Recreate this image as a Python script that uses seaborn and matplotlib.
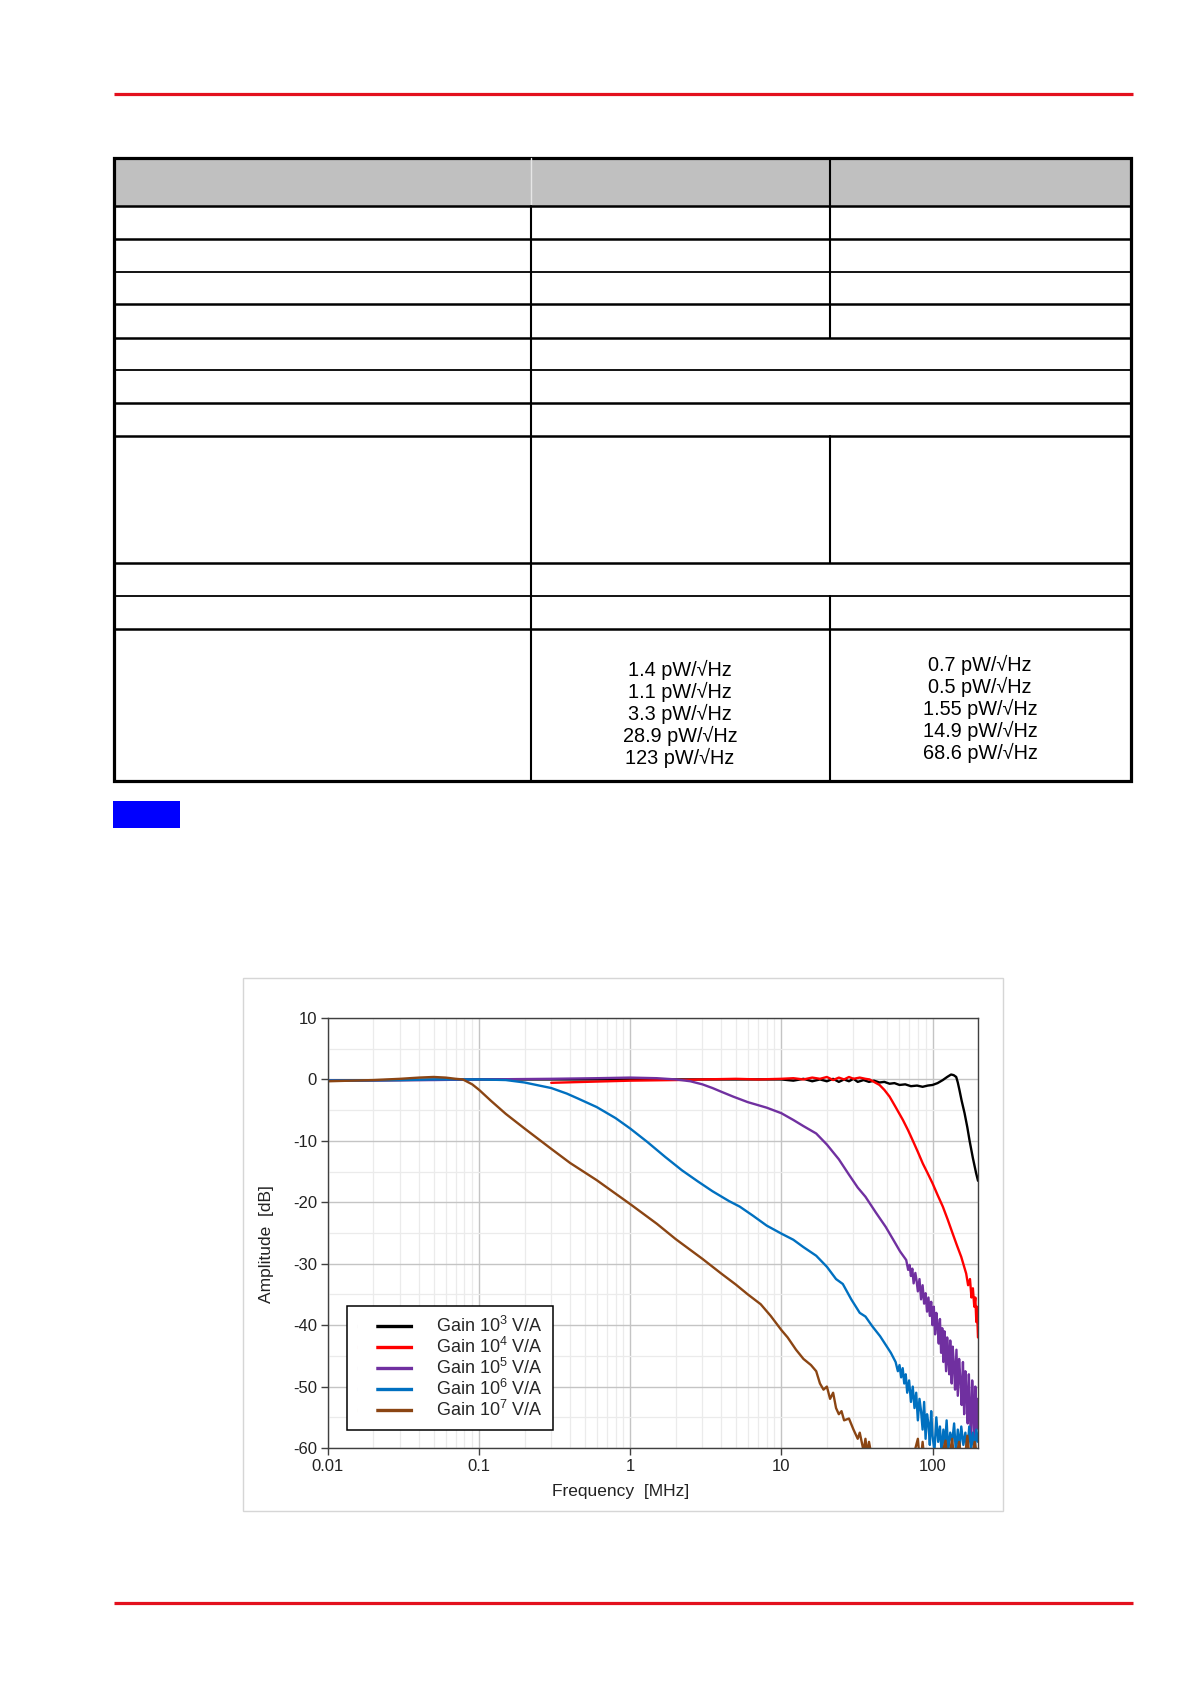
import numpy as np
import pandas as pd
import matplotlib
matplotlib.use('Agg')
import matplotlib.pyplot as plt
import seaborn as sns
from matplotlib.patches import Rectangle
from matplotlib.lines import Line2D
from matplotlib.ticker import LogLocator, MultipleLocator, NullFormatter

# Frequency response data (MHz, dB)
f_g3 = [0.01, 0.03, 0.1, 0.3, 1, 3, 10, 12, 14, 16, 18, 20, 22, 24, 26, 28, 30, 32, 35, 38, 41,
        44.6, 48, 52, 56, 60.5, 66, 72, 79, 86, 93, 100, 108, 117, 125, 132.7, 138, 143.5, 147,
        150.7, 156, 163, 170, 176, 185, 194.5, 200]
a_g3 = [-0.2, -0.1, 0.0, 0.0, 0.0, 0.0, 0.0, -0.2, 0.1, -0.3, 0.0, -0.3, 0.1, -0.4, 0.0, -0.3, 0.1,
        -0.4, -0.1, -0.4, -0.2, -0.5, -0.4, -0.7, -0.6, -0.9, -0.8, -1.1, -1.0, -1.2, -1.0, -0.9,
        -0.6, -0.1, 0.4, 0.8, 0.7, 0.4, -0.5, -1.7, -3.5, -5.5, -7.8, -10.0, -12.8, -15.3, -16.5]

f_g4 = [0.3, 0.5, 1.0, 2.0, 3, 5, 7, 10, 12, 14, 16, 18, 20, 22, 24, 26, 28, 30, 33, 36, 38.3, 41,
        44.6, 48, 52, 57, 63.7, 69, 74.2, 80, 86.3, 93, 100, 108, 117, 126, 136, 145, 155, 162,
        167, 172, 177, 181, 185, 189, 192, 195, 197, 200]
a_g4 = [-0.55, -0.4, -0.2, -0.1, 0.0, 0.1, 0.0, 0.1, 0.2, 0.0, 0.3, 0.1, 0.4, -0.1, 0.3, 0.0, 0.4,
        0.1, 0.3, 0.1, 0.0, -0.4, -0.9, -1.7, -2.8, -4.5, -6.6, -8.3, -10.0, -11.8, -13.7, -15.3,
        -16.9, -18.8, -20.7, -22.8, -25.1, -27.0, -28.9, -30.5, -31.6, -33.5, -32.5, -35.5, -34.0,
        -37.0, -35.5, -39.5, -37.0, -42.0]

f_g5 = [0.01, 0.05, 0.1, 0.3, 0.6, 1.0, 1.5, 2.0, 2.5, 3.0, 3.5, 4.0, 4.8, 6.0, 8.0, 10, 12, 14, 17,
        20, 24, 28, 32, 36, 42, 49, 55, 61, 67, 69, 70.5, 72, 73.5, 75, 77, 78.5, 80, 82, 84, 86,
        88, 90, 92, 94, 96, 98, 100, 102, 104, 106, 108, 110, 112, 114, 116, 118, 120, 123, 125,
        127, 129, 131, 134, 136, 139, 141, 144, 147, 150, 153, 156, 159, 162, 165, 168, 171, 174,
        177, 180, 183, 186, 189, 192, 195, 198, 200]
a_g5 = [-0.2, -0.1, 0.0, 0.1, 0.2, 0.3, 0.2, 0.0, -0.3, -0.8, -1.4, -2.0, -2.8, -3.7, -4.6, -5.5,
        -6.6, -7.6, -8.8, -10.6, -13.0, -15.5, -17.6, -19.1, -21.6, -24.0, -26.1, -28.0, -29.4,
        -31.0, -30.2, -32.0, -30.8, -33.2, -31.5, -32.8, -34.5, -32.5, -35.8, -33.5, -36.5, -34.8,
        -37.8, -35.5, -38.5, -36.2, -40.0, -37.0, -41.5, -38.0, -40.2, -43.0, -39.0, -44.5, -40.5,
        -46.0, -41.0, -47.5, -42.0, -45.0, -48.0, -42.5, -49.5, -43.5, -47.0, -50.5, -44.0, -51.5,
        -45.5, -49.0, -53.0, -46.0, -54.5, -47.5, -51.0, -56.0, -48.0, -55.0, -58.0, -49.0, -53.5,
        -59.0, -50.0, -57.0, -52.0, -55.0]

f_g6 = [0.01, 0.03, 0.05, 0.1, 0.15, 0.2, 0.25, 0.3, 0.38, 0.45, 0.6, 0.8, 1.0, 1.3, 1.7, 2.2, 2.8,
        3.5, 4.5, 5.3, 6.5, 8, 10, 12, 14, 17, 20, 23, 25.5, 29, 33, 36, 40, 45, 49, 53, 57, 59,
        60.5, 62, 63.5, 65, 66.5, 68, 70, 72, 74, 76, 78, 80, 82, 84, 86, 88, 90, 92, 94, 96, 98,
        100, 103, 106, 109, 112, 115, 118, 121, 124, 127, 131, 135, 139, 143, 147, 151, 155, 160,
        165, 170, 175, 180, 185, 190, 195, 200]
a_g6 = [-0.2, -0.1, 0.0, 0.0, -0.1, -0.5, -1.0, -1.4, -2.3, -3.1, -4.5, -6.3, -8.0, -10.2, -12.6,
        -14.8, -16.6, -18.2, -19.8, -20.7, -22.2, -23.8, -25.1, -26.1, -27.3, -28.7, -30.5, -32.5,
        -33.3, -35.8, -38.0, -38.6, -40.2, -41.8, -43.2, -44.5, -46.0, -47.5, -46.5, -48.5, -47.0,
        -49.5, -48.0, -51.0, -49.0, -52.5, -50.0, -53.5, -51.0, -55.5, -52.0, -54.0, -57.0, -52.5,
        -58.5, -54.5, -56.0, -59.5, -54.0, -58.0, -60.5, -55.0, -59.0, -56.5, -61.0, -57.0, -59.5,
        -55.5, -60.5, -57.5, -59.0, -56.0, -61.0, -57.0, -60.0, -56.5, -59.5, -57.5, -61.0, -56.5,
        -60.0, -57.5, -61.0, -57.0, -59.0]

f_g7 = [0.01, 0.02, 0.03, 0.04, 0.05, 0.06, 0.07, 0.078, 0.09, 0.1, 0.12, 0.15, 0.2, 0.3, 0.4, 0.6,
        0.8, 1.0, 1.5, 2.0, 3.0, 4.0, 5.0, 6.0, 7.3, 8.5, 10, 11, 12.5, 14, 15.7, 17, 18, 19, 20, 21,
        22, 23, 24, 25, 26, 28, 30, 32, 33, 35, 36, 37, 38, 40, 45, 55, 70, 80, 83, 86, 90, 110,
        122, 126, 135, 140, 150, 160, 170, 178, 190, 200]
a_g7 = [-0.3, -0.1, 0.1, 0.3, 0.4, 0.3, 0.1, 0.0, -0.8, -1.7, -3.5, -5.6, -8.0, -11.3, -13.6, -16.4,
        -18.6, -20.3, -23.5, -26.0, -29.2, -31.6, -33.4, -35.0, -36.6, -38.5, -40.8, -42.0, -44.0,
        -45.5, -46.5, -47.5, -49.5, -50.5, -50.0, -52.0, -51.0, -53.5, -54.5, -54.0, -55.5, -55.2,
        -57.0, -58.5, -57.5, -60.5, -58.5, -61.0, -59.0, -62.0, -65.0, -66.0, -64.0, -58.5, -63.0,
        -59.0, -64.0, -63.0, -58.8, -63.0, -58.5, -63.0, -59.0, -64.0, -58.0, -63.0, -59.0, -62.0]

gain_labels = ['Gain 10$^{\\mathrm{3}}$ V/A', 'Gain 10$^{\\mathrm{4}}$ V/A', 'Gain 10$^{\\mathrm{5}}$ V/A',
               'Gain 10$^{\\mathrm{6}}$ V/A', 'Gain 10$^{\\mathrm{7}}$ V/A']
gain_colors = ['#000000', '#ff0000', '#7030a0', '#0070c0', '#8b4513']

# Noise equivalent power values in the table's last row
nep_col2 = ['1.4 pW/√Hz', '1.1 pW/√Hz', '3.3 pW/√Hz', '28.9 pW/√Hz', '123 pW/√Hz']
nep_col3 = ['0.7 pW/√Hz', '0.5 pW/√Hz', '1.55 pW/√Hz', '14.9 pW/√Hz', '68.6 pW/√Hz']

sns.set_theme(style='white')
plt.rcParams['font.family'] = ['Liberation Sans', 'DejaVu Sans']
plt.rcParams['axes.unicode_minus'] = False
plt.rcParams['mathtext.fontset'] = 'custom'
plt.rcParams['mathtext.rm'] = 'Liberation Sans'
plt.rcParams['mathtext.it'] = 'Liberation Sans:italic'
plt.rcParams['lines.scale_dashes'] = False

fig = plt.figure(figsize=(11.9, 16.84), dpi=100)

# page layer in pixel coordinates
page = fig.add_axes([0, 0, 1, 1])
page.set_xlim(0, 1190)
page.set_ylim(1684, 0)
page.axis('off')

red = '#e3101d'
page.plot([114, 1133], [94, 94], color=red, lw=2.3, solid_capstyle='butt')
page.plot([114, 1133], [1603, 1603], color=red, lw=2.3, solid_capstyle='butt')

# table skeleton
L, C1, C2, R = 114, 531, 830, 1131
T, B = 158, 781
page.add_patch(Rectangle((L, T), R - L, 206 - T, facecolor='#c0c0c0', edgecolor='none'))
page.plot([C1, C1], [T, 206], color='#e6e6e6', lw=1.0)
rows = [(206, 1.8), (239, 1.8), (272, 1.3), (304, 1.8), (338, 1.8), (370, 1.3), (403, 1.8),
        (436, 1.8), (563, 1.8), (596, 1.3), (629, 1.8)]
for y, w in rows:
    page.plot([L, R], [y, y], color='black', lw=w)
page.plot([C1, C1], [206, B], color='black', lw=1.5)
for y0, y1 in [(T, 338), (436, 563), (596, B)]:
    page.plot([C2, C2], [y0, y1], color='black', lw=1.5)
page.add_patch(Rectangle((L, T), R - L, B - T, facecolor='none', edgecolor='black', lw=2.3))

for i, t in enumerate(nep_col2):
    page.text(680, 670 + i * 22, t, ha='center', va='center', fontsize=14.3, color='black')
for i, t in enumerate(nep_col3):
    page.text(980, 665 + i * 22, t, ha='center', va='center', fontsize=14.3, color='black')

page.add_patch(Rectangle((113, 801), 67, 27, facecolor='#0000ff', edgecolor='none'))

# chart frame
page.add_patch(Rectangle((243, 978), 760, 533, facecolor='white', edgecolor='#d6d6d6', lw=1.0))

# build long table for seaborn
series = [(f_g3, a_g3), (f_g4, a_g4), (f_g5, a_g5), (f_g6, a_g6), (f_g7, a_g7)]
frames = []
for lab, (f, a) in zip(gain_labels, series):
    frames.append(pd.DataFrame({'freq': f, 'amp': a, 'gain': lab}))
df = pd.concat(frames, ignore_index=True)

ax = fig.add_axes([328 / 1190, 1 - 1448 / 1684, 650 / 1190, 430 / 1684])
ax.set_xscale('log')
sns.lineplot(data=df, x='freq', y='amp', hue='gain', hue_order=gain_labels,
             palette=dict(zip(gain_labels, gain_colors)), estimator=None, sort=False,
             lw=1.7, legend=False, ax=ax)

ax.set_xlim(0.01, 200)
ax.set_ylim(-60, 10)
ax.set_yticks(range(-60, 11, 10))
ax.yaxis.set_minor_locator(MultipleLocator(5))
ax.set_xticks([0.01, 0.1, 1, 10, 100])
ax.set_xticklabels(['0.01', '0.1', '1', '10', '100'])
ax.xaxis.set_minor_locator(LogLocator(base=10, subs=np.arange(2, 10)))
ax.xaxis.set_minor_formatter(NullFormatter())
ax.grid(which='major', color='#c4c4c4', lw=1.0)
ax.grid(which='minor', color='#ebebeb', lw=0.9)
ax.set_axisbelow(True)
ax.tick_params(which='major', direction='out', length=5, width=1, color='#404040',
               labelsize=12, labelcolor='#222222', pad=3, left=True, bottom=True)
ax.tick_params(which='minor', length=0)
for s in ax.spines.values():
    s.set_color('#404040')
    s.set_linewidth(1.0)

ax.set_xlabel('Frequency  [MHz]', fontsize=12.5, color='#222222')
ax.set_ylabel('Amplitude  [dB]', fontsize=12.5, color='#222222')
ax.xaxis.set_label_coords(0.45, -0.083)
ax.yaxis.set_label_coords(-0.083, 0.475)

# legend handles: short line set right of the handle box (gap, then line)
handles = [Line2D([], [], color=c, lw=2.4, ls=(0, (0.01, 13.5, 26.5, 200)))
           for c in gain_colors]
leg = ax.legend(handles, gain_labels, loc='lower left', bbox_to_anchor=(0.029, 0.042),
                frameon=True, fancybox=False, edgecolor='black', framealpha=1, fontsize=13,
                handlelength=3.1, handletextpad=1.3, borderpad=0.55, labelspacing=0.05,
                borderaxespad=0)
leg.get_frame().set_linewidth(1.1)

fig.savefig('out.png', dpi=100)
